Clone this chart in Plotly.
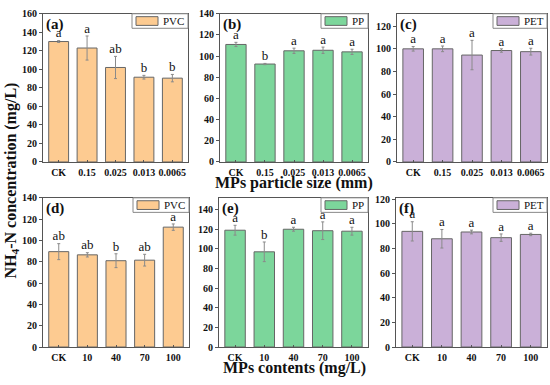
import plotly.graph_objects as go

# ---------------- data ----------------
size_cats = ["CK", "0.15", "0.025", "0.013", "0.0065"]
content_cats = ["CK", "10", "40", "70", "100"]

pvc_size = [130, 123, 102, 91.5, 90.5]
pvc_size_err = [1, 13, 12, 2, 4]
pvc_size_lab = ["a", "a", "ab", "b", "b"]

pp_size = [111, 92.5, 105, 105.5, 104]
pp_size_err = [2, 0.6, 2.5, 3, 2.5]
pp_size_lab = ["a", "b", "a", "a", "a"]

pet_size = [100, 100, 94.5, 98.5, 97.5]
pet_size_err = [2, 2.5, 13, 1.5, 3]
pet_size_lab = ["a", "a", "a", "a", "a"]

pvc_cont = [89.5, 86.5, 81, 81.5, 112.5]
pvc_cont_err = [7.5, 2, 6.5, 5.5, 3]
pvc_cont_lab = ["ab", "ab", "b", "ab", "a"]

pp_cont = [119, 97, 120, 118.5, 118]
pp_cont_err = [5, 10, 2, 9, 4]
pp_cont_lab = ["a", "b", "a", "a", "a"]

pet_cont = [93.8, 87.8, 93.3, 88.7, 91.3]
pet_cont_err = [7.8, 7.5, 1.5, 3, 1]
pet_cont_lab = ["a", "a", "a", "a", "a"]

W, H = 550, 385
FONT = "Liberation Serif"
COL = {"PVC": "#FDCB91", "PP": "#7CD69B", "PET": "#CAB0D8"}

panels = [
    ("(a)", size_cats, pvc_size, pvc_size_err, pvc_size_lab, "PVC", 160, (43, 188), (8, 161)),
    ("(b)", size_cats, pp_size, pp_size_err, pp_size_lab, "PP", 140, (220, 368), (8, 161)),
    ("(c)", size_cats, pet_size, pet_size_err, pet_size_lab, "PET", 131, (397, 547), (8, 161)),
    ("(d)", content_cats, pvc_cont, pvc_cont_err, pvc_cont_lab, "PVC", 140, (43, 189), (198, 352)),
    ("(e)", content_cats, pp_cont, pp_cont_err, pp_cont_lab, "PP", 152, (219, 368), (198, 352)),
    ("(f)", content_cats, pet_cont, pet_cont_err, pet_cont_lab, "PET", 121, (396, 547), (198, 352)),
]

fig = go.Figure()
shapes = []
annotations = []

for i, (tag, cats, vals, errs, labs, poly, ymax, xpx, ypx) in enumerate(panels):
    n = "" if i == 0 else str(i + 1)
    xa, ya = "x" + n, "y" + n
    fig.add_trace(go.Bar(
        x=cats, y=vals, xaxis=xa, yaxis=ya, width=0.7,
        marker=dict(color=COL[poly], line=dict(color="#666666", width=1)),
        error_y=dict(type="data", array=errs, color="#8a8a8a", thickness=1, width=1.5),
        showlegend=False,
    ))
    fig.add_trace(go.Scatter(
        x=cats, y=[v + e for v, e in zip(vals, errs)], xaxis=xa, yaxis=ya,
        mode="text", text=labs, textposition="top center",
        textfont=dict(family=FONT, size=13, color="#111"),
        showlegend=False, hoverinfo="skip",
    ))
    xd = [xpx[0] / W, xpx[1] / W]
    yd = [1 - ypx[1] / H, 1 - ypx[0] / H]
    fig.layout["xaxis" + n] = dict(
        domain=xd, anchor=ya, showline=True, mirror=True, linecolor="#555", linewidth=1,
        ticks="inside", ticklen=2, tickcolor="#555", tickangle=0, ticklabelstandoff=1,
        tickfont=dict(family=FONT, size=10, color="#111", weight="bold"),
        showgrid=False, range=[-0.55, 4.55], fixedrange=True,
    )
    fig.layout["yaxis" + n] = dict(
        domain=yd, anchor=xa, showline=True, mirror=True, linecolor="#555", linewidth=1,
        ticks="outside", ticklen=3, tickcolor="#555", dtick=20, range=[0, ymax],
        tickfont=dict(family=FONT, size=10, color="#111", weight="bold"),
        showgrid=False, zeroline=False, fixedrange=True,
    )
    annotations.append(dict(
        text=tag, xref=xa + " domain", yref=ya + " domain", x=0.005, y=1.0,
        xanchor="left", yanchor="top", showarrow=False,
        font=dict(family=FONT, size=15, color="#111", weight="bold"),
    ))
    pw = xpx[1] - xpx[0]
    ph = ypx[1] - ypx[0]
    tw = {"PVC": 24, "PP": 15, "PET": 22}[poly]
    bw = 4 + 22 + 3 + tw + 3
    x0 = 1 - bw / pw
    y0 = 1 - 15 / ph
    shapes.append(dict(type="rect", xref=xa + " domain", yref=ya + " domain",
                       x0=x0, x1=1.0, y0=y0, y1=1.0, line=dict(color="#888", width=1),
                       fillcolor="white"))
    sx0 = x0 + 4 / pw
    sx1 = sx0 + 22 / pw
    shapes.append(dict(type="rect", xref=xa + " domain", yref=ya + " domain",
                       x0=sx0, x1=sx1, y0=1 - 12 / ph, y1=1 - 3 / ph,
                       line=dict(color="#666", width=1), fillcolor=COL[poly]))
    annotations.append(dict(
        text=poly, xref=xa + " domain", yref=ya + " domain", x=sx1 + 3 / pw, y=1 - 7.5 / ph,
        xanchor="left", yanchor="middle", showarrow=False,
        font=dict(family=FONT, size=11, color="#111"),
    ))

annotations += [
    dict(text="MPs particle size (mm)", xref="paper", yref="paper", x=294 / W, y=1 - 183 / H,
         xanchor="center", yanchor="middle", showarrow=False,
         font=dict(family=FONT, size=16, color="#111", weight="bold")),
    dict(text="MPs contents (mg/L)", xref="paper", yref="paper", x=294 / W, y=1 - 374 / H,
         xanchor="center", yanchor="middle", showarrow=False,
         font=dict(family=FONT, size=16, color="#111", weight="bold")),
    dict(text="NH<sub>4</sub>-N concentration (mg/L)", xref="paper", yref="paper",
         x=11 / W, y=1 - 180 / H, textangle=-90, xanchor="center", yanchor="middle",
         showarrow=False, font=dict(family=FONT, size=16, color="#111", weight="bold")),
]

fig.update_layout(
    width=W, height=H, margin=dict(l=0, r=0, t=0, b=0),
    paper_bgcolor="white", plot_bgcolor="white",
    shapes=shapes, annotations=annotations, bargap=0.3,
)

fig.write_html(
    "out.html",
    config={"displayModeBar": False},
    post_script="document.body.style.margin='0';document.body.style.overflow='hidden';",
)
